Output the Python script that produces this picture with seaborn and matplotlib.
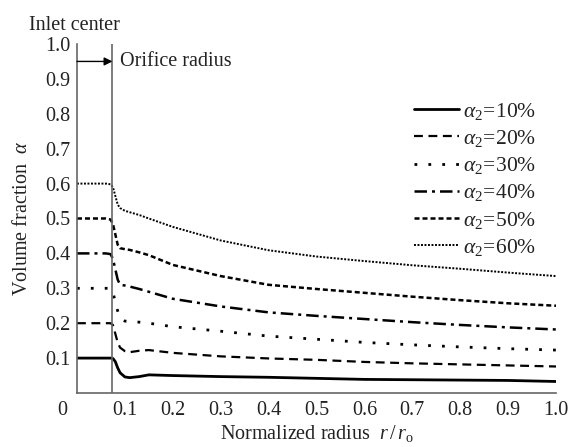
import matplotlib
matplotlib.use("Agg")
import matplotlib.pyplot as plt
import seaborn as sns
import pandas as pd

r = [0, 0.02, 0.04, 0.06, 0.07, 0.075, 0.08, 0.085, 0.09, 0.1, 0.11, 0.13, 0.15,
     0.2, 0.3, 0.4, 0.5, 0.6, 0.7, 0.8, 0.9, 1.0]
a10 = [0.1, 0.1, 0.1, 0.1, 0.1, 0.099, 0.09, 0.072, 0.058, 0.046, 0.044, 0.047, 0.052,
       0.05, 0.047, 0.045, 0.042, 0.039, 0.038, 0.037, 0.036, 0.033]
a20 = [0.2, 0.2, 0.2, 0.2, 0.2, 0.195, 0.17, 0.145, 0.13, 0.12, 0.117, 0.121, 0.123,
       0.115, 0.105, 0.099, 0.095, 0.089, 0.085, 0.082, 0.079, 0.076]
a30 = [0.3, 0.3, 0.3, 0.3, 0.3, 0.29, 0.26, 0.235, 0.215, 0.206, 0.205, 0.203, 0.2,
       0.19, 0.177, 0.163, 0.154, 0.145, 0.138, 0.132, 0.127, 0.123]
a40 = [0.4, 0.4, 0.4, 0.4, 0.398, 0.385, 0.355, 0.325, 0.31, 0.308, 0.305, 0.298, 0.29,
       0.27, 0.248, 0.231, 0.221, 0.212, 0.203, 0.195, 0.188, 0.182]
a50 = [0.5, 0.5, 0.5, 0.5, 0.497, 0.485, 0.455, 0.425, 0.415, 0.412, 0.41, 0.403, 0.395,
       0.367, 0.335, 0.31, 0.298, 0.287, 0.276, 0.266, 0.257, 0.25]
a60 = [0.6, 0.6, 0.6, 0.6, 0.598, 0.59, 0.565, 0.54, 0.53, 0.522, 0.518, 0.51, 0.5,
       0.476, 0.437, 0.409, 0.391, 0.378, 0.366, 0.356, 0.345, 0.335]
labels = [r"$\alpha_2\!=\!$10%", r"$\alpha_2\!=\!$20%", r"$\alpha_2\!=\!$30%",
          r"$\alpha_2\!=\!$40%", r"$\alpha_2\!=\!$50%", r"$\alpha_2\!=\!$60%"]
series = [a10, a20, a30, a40, a50, a60]
xticks = [0.1, 0.2, 0.3, 0.4, 0.5, 0.6, 0.7, 0.8, 0.9, 1.0]
yticks = [0.1, 0.2, 0.3, 0.4, 0.5, 0.6, 0.7, 0.8, 0.9, 1.0]
orifice_r = 0.074

sns.set_theme(style="white")
plt.rcParams["font.family"] = ["Liberation Serif", "DejaVu Serif"]
plt.rcParams["mathtext.fontset"] = "custom"
plt.rcParams["mathtext.rm"] = "Liberation Serif"
plt.rcParams["mathtext.it"] = "Liberation Serif:italic"

styles = [
    dict(linestyle="-", linewidth=2.0),
    dict(linestyle=(0, (4, 2.5)), linewidth=1.6),
    dict(linestyle=(0, (1, 4)), linewidth=2.0),
    dict(linestyle=(0, (5, 2, 1.2, 2)), linewidth=1.8),
    dict(linestyle=(0, (2, 1.2)), linewidth=1.8),
    dict(linestyle=(0, (1, 0.8)), linewidth=1.4),
]

TXT = "#222222"
FS = 14.5

fig = plt.figure(figsize=(5.77, 4.47), dpi=100)
ax = fig.add_axes([0.1334, 0.1208, 0.8302, 0.7808])

for ys, lab, st in zip(series, labels, styles):
    df = pd.DataFrame({"r": r, "alpha": ys})
    sns.lineplot(data=df, x="r", y="alpha", ax=ax, color="black", label=lab, **st)

ax.set_xlim(0, 1.0)
ax.set_ylim(0, 1.0)
ax.set_xticks(xticks)
ax.set_xticklabels([f"{t:.1f}" for t in xticks])
ax.set_yticks(yticks)
ax.set_yticklabels([f"{t:.1f}" for t in yticks])
ax.tick_params(direction="in", length=7, width=1.0, color="#555555",
               labelsize=FS, labelcolor=TXT, pad=5)
ax.tick_params(axis="x", pad=6)
for s in ["top", "right"]:
    ax.spines[s].set_visible(False)
for s in ["left", "bottom"]:
    ax.spines[s].set_color("#666666")
    ax.spines[s].set_linewidth(1.2)

ax.axvline(orifice_r, color="#666666", linewidth=1.2)
ax.annotate("", xy=(orifice_r, 0.95), xytext=(0, 0.95),
            arrowprops=dict(arrowstyle="-|>", color="black", lw=1.0,
                            mutation_scale=12, shrinkA=0, shrinkB=0))
ax.text(orifice_r + 0.016, 0.95, "Orifice radius", fontsize=FS, va="center", ha="left",
        color=TXT)
fig.text(0.05, 0.944, "Inlet center", fontsize=FS, va="center", ha="left", color=TXT)
ax.text(-0.03, -0.05, "0", fontsize=FS, ha="center", va="center", color=TXT,
        transform=ax.transData)

ax.set_xlabel(r"Normalized radius  $r\,/\,r_{\rm o}$", fontsize=FS, color=TXT,
              labelpad=2)
ax.set_ylabel(r"Volume fraction  $\alpha$", fontsize=FS, color=TXT, labelpad=9)

leg = ax.legend(loc="upper right", bbox_to_anchor=(1.0, 0.893), frameon=False,
                fontsize=15.5, handlelength=2.1, handletextpad=0.2, labelspacing=0.29)
for t in leg.get_texts():
    t.set_color(TXT)

fig.savefig("out.png", dpi=100)
